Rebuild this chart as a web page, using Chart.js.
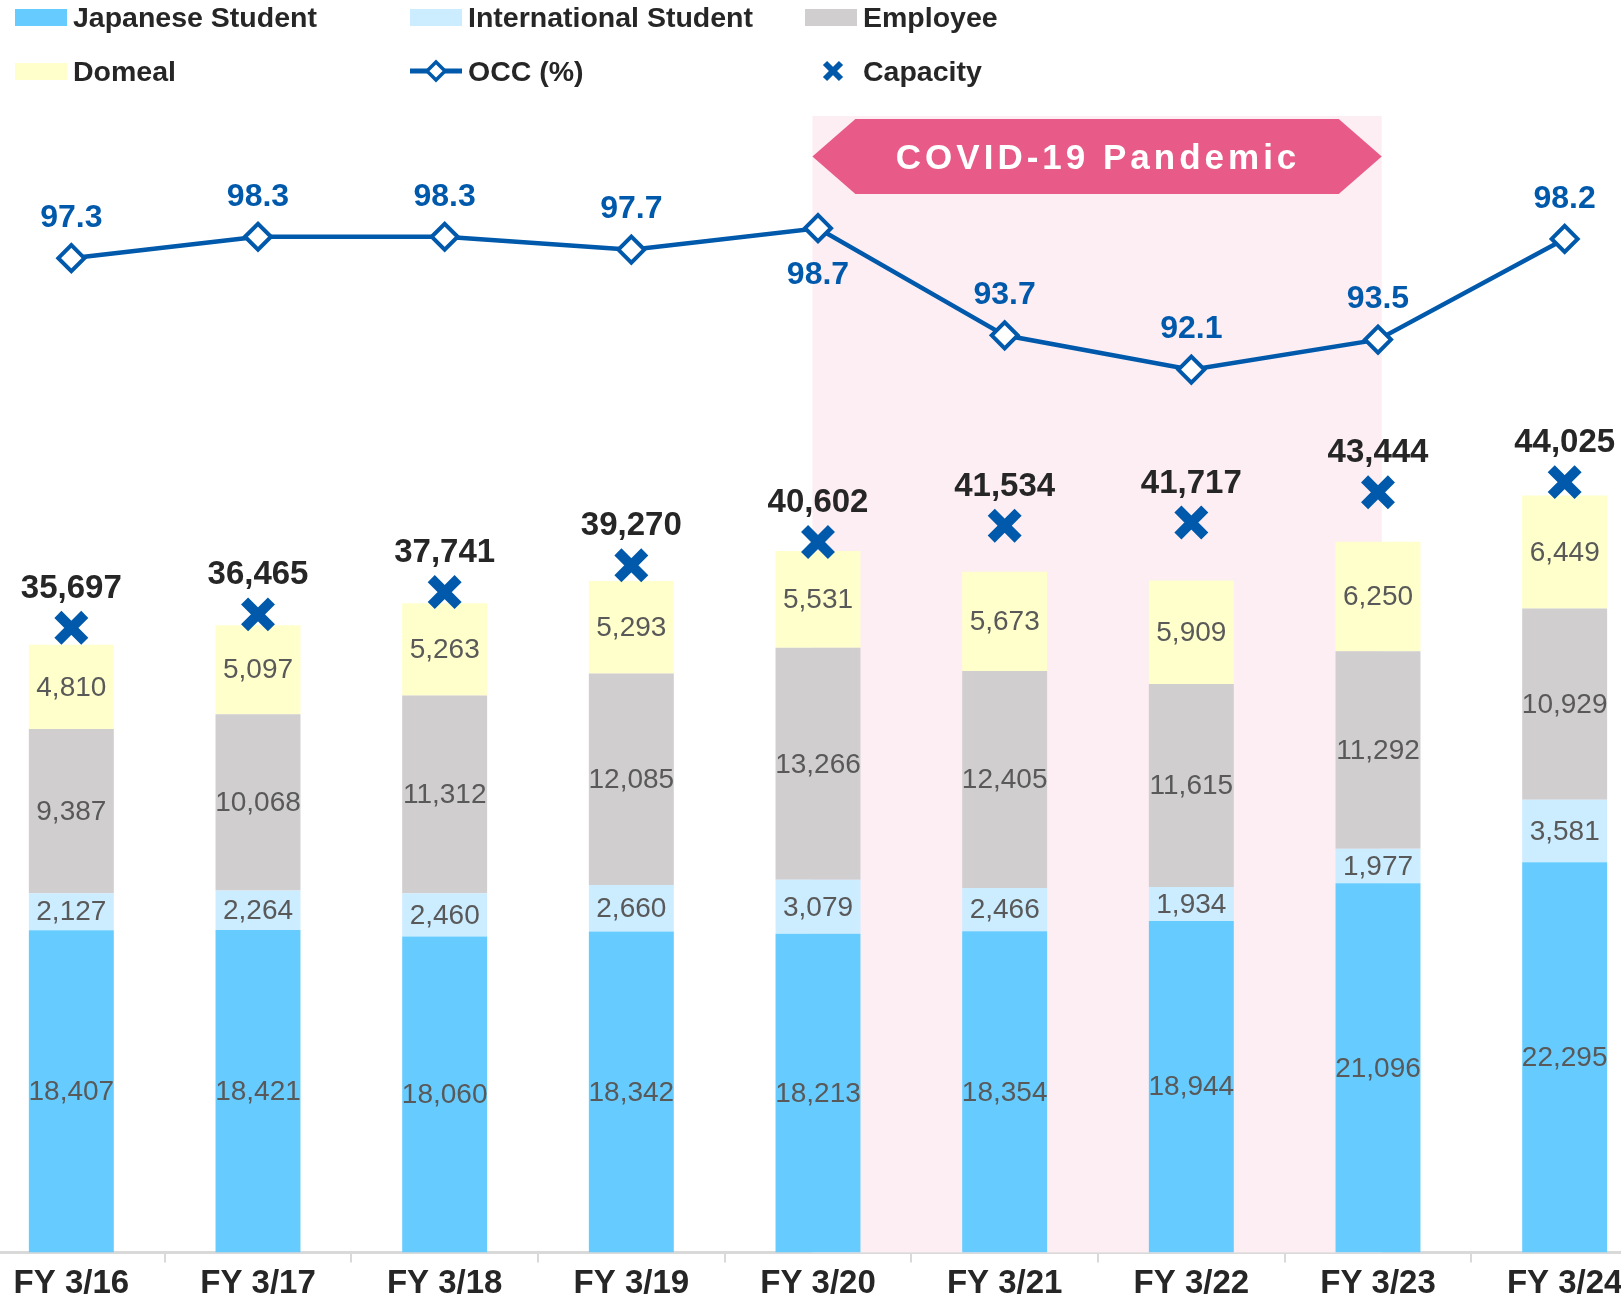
<!DOCTYPE html>
<html>
<head>
<meta charset="utf-8">
<script src="https://cdn.jsdelivr.net/npm/chart.js@4.4.1/dist/chart.umd.min.js"></script>
<style>
  html, body { margin: 0; padding: 0; background: #fff; }
  body { width: 1621px; height: 1295px; overflow: hidden; position: relative; font-family: "Liberation Sans", Arial, sans-serif; }
  #wrap { position: absolute; left: -22px; top: 0; width: 1680px; height: 1306px; }
  .lg { position: absolute; display: flex; align-items: center; height: 30px; font-size: 28.5px; font-weight: bold; color: #262626; white-space: nowrap; }
  .lg .icon { width: 52px; height: 30px; display: flex; align-items: center; justify-content: center; margin-right: 6px; }
  .lg .box { width: 52px; height: 17px; }
</style>
</head>
<body>
<div id="wrap"><canvas id="chart" width="1680" height="1306"></canvas></div>
<div id="legend"></div>
<script>
// dados do gráfico
const categories = ['FY 3/16', 'FY 3/17', 'FY 3/18', 'FY 3/19', 'FY 3/20', 'FY 3/21', 'FY 3/22', 'FY 3/23', 'FY 3/24'];
const japanese = [18407, 18421, 18060, 18342, 18213, 18354, 18944, 21096, 22295];
const international = [2127, 2264, 2460, 2660, 3079, 2466, 1934, 1977, 3581];
const employee = [9387, 10068, 11312, 12085, 13266, 12405, 11615, 11292, 10929];
const domeal = [4810, 5097, 5263, 5293, 5531, 5673, 5909, 6250, 6449];
const occ = [97.3, 98.3, 98.3, 97.7, 98.7, 93.7, 92.1, 93.5, 98.2];
const capacity = [35697, 36465, 37741, 39270, 40602, 41534, 41717, 43444, 44025];
const covidFrom = 4; // FY 3/20
const covidTo = 7;   // FY 3/23

const BLUE = '#0059AB';
const FONT = '"Liberation Sans", Arial, sans-serif';
const fmt = v => v.toLocaleString('en-US');

// legenda em HTML
const legendItems = [
    { name: 'Japanese Student', type: 'box', color: '#66CCFF' },
    { name: 'International Student', type: 'box', color: '#CCECFF' },
    { name: 'Employee', type: 'box', color: '#D0CECE' },
    { name: 'Domeal', type: 'box', color: '#FFFFCC' },
    { name: 'OCC (%)', type: 'line' },
    { name: 'Capacity', type: 'cross' }
];
const colX = [15, 410, 805];
const rowY = [17, 71];
const legend = document.getElementById('legend');
legendItems.forEach((it, i) => {
    const el = document.createElement('div');
    el.className = 'lg';
    el.style.left = colX[i % 3] + 'px';
    el.style.top = (rowY[Math.floor(i / 3)] - 15) + 'px';
    let icon;
    if (it.type === 'box') {
        icon = '<div class="box" style="background:' + it.color + '"></div>';
    } else if (it.type === 'line') {
        icon = '<svg width="52" height="24"><line x1="0" y1="12" x2="52" y2="12" stroke="' + BLUE + '" stroke-width="5"/>' +
               '<polygon points="26,3 35,12 26,21 17,12" fill="#fff" stroke="' + BLUE + '" stroke-width="3.5"/></svg>';
    } else {
        icon = '<svg width="52" height="24"><line x1="20" y1="4" x2="36" y2="20" stroke="' + BLUE + '" stroke-width="6"/>' +
               '<line x1="36" y1="4" x2="20" y2="20" stroke="' + BLUE + '" stroke-width="6"/></svg>';
    }
    el.innerHTML = '<div class="icon">' + icon + '</div><span>' + it.name + '</span>';
    legend.appendChild(el);
});

// plugin: faixa COVID + rótulos
const extrasPlugin = {
    id: 'extras',
    beforeDatasetsDraw(chart) {
        const { ctx, chartArea, scales: { x } } = chart;
        const cw = x.getPixelForValue(1) - x.getPixelForValue(0);
        const left = x.getPixelForValue(covidFrom) - cw * 0.03;
        const right = x.getPixelForValue(covidTo) + cw * 0.02;
        const top = 116;
        ctx.save();
        ctx.fillStyle = '#FCEEF3';
        ctx.fillRect(left, top, right - left, chartArea.bottom - top);
        const bTop = 119, bBot = 194, mid = (bTop + bBot) / 2, ind = 43;
        ctx.fillStyle = '#E85A87';
        ctx.beginPath();
        ctx.moveTo(left, mid);
        ctx.lineTo(left + ind, bTop);
        ctx.lineTo(right - ind, bTop);
        ctx.lineTo(right, mid);
        ctx.lineTo(right - ind, bBot);
        ctx.lineTo(left + ind, bBot);
        ctx.closePath();
        ctx.fill();
        ctx.fillStyle = '#fff';
        ctx.font = 'bold 35px ' + FONT;
        ctx.letterSpacing = '4px';
        ctx.textAlign = 'center';
        ctx.textBaseline = 'middle';
        ctx.fillText('COVID-19 Pandemic', (left + right) / 2 + 1, mid + 3);
        ctx.restore();
    },
    afterDatasetsDraw(chart) {
        const ctx = chart.ctx;
        ctx.save();
        ctx.textAlign = 'center';
        ctx.textBaseline = 'middle';
        // valores dentro das barras
        ctx.font = '28px ' + FONT;
        ctx.fillStyle = '#595959';
        [0, 1, 2, 3].forEach(i => {
            const ds = chart.data.datasets[i];
            chart.getDatasetMeta(i).data.forEach((bar, j) => {
                ctx.fillText(fmt(ds.data[j]), bar.x, (bar.y + bar.base) / 2 + 1);
            });
        });
        // capacidade
        ctx.font = 'bold 33px ' + FONT;
        ctx.fillStyle = '#262626';
        chart.getDatasetMeta(5).data.forEach((pt, j) => {
            ctx.fillText(fmt(capacity[j]), pt.x, pt.y - 39);
        });
        // OCC
        ctx.font = 'bold 32px ' + FONT;
        ctx.fillStyle = BLUE;
        chart.getDatasetMeta(4).data.forEach((pt, j) => {
            const below = j === covidFrom;
            ctx.fillText(occ[j].toFixed(1), pt.x, below ? pt.y + 47 : pt.y - 40);
        });
        ctx.restore();
    }
};

const ctx = document.getElementById('chart').getContext('2d');
const chart = new Chart(ctx, {
    type: 'bar',
    data: {
        labels: categories,
        datasets: [
            { label: 'Japanese Student', data: japanese, backgroundColor: '#66CCFF', order: 3 },
            { label: 'International Student', data: international, backgroundColor: '#CCECFF', order: 3 },
            { label: 'Employee', data: employee, backgroundColor: '#D0CECE', order: 3 },
            { label: 'Domeal', data: domeal, backgroundColor: '#FFFFCC', order: 3 },
            {
                type: 'line', label: 'OCC (%)', data: occ, yAxisID: 'y1', order: 0,
                borderColor: BLUE, borderWidth: 4.5, backgroundColor: '#fff',
                pointStyle: 'rectRot', pointRadius: 13, pointBorderWidth: 4,
                pointBackgroundColor: '#fff', pointBorderColor: BLUE, tension: 0
            },
            {
                type: 'line', label: 'Capacity', data: capacity, yAxisID: 'yc', order: 1,
                showLine: false, pointStyle: 'crossRot', pointRadius: 19, pointBorderWidth: 10,
                pointBorderColor: BLUE, pointBackgroundColor: BLUE
            }
        ]
    },
    options: {
        responsive: false,
        animation: false,
        layout: { padding: 0, autoPadding: false },
        datasets: { bar: { categoryPercentage: 1, barPercentage: 0.455 } },
        plugins: { legend: { display: false }, tooltip: { enabled: false } },
        scales: {
            x: {
                stacked: true,
                grid: { drawOnChartArea: false, drawTicks: true, tickLength: 10, color: '#D9D9D9', lineWidth: 2 },
                border: { color: '#D9D9D9', width: 3 },
                ticks: { color: '#262626', padding: 2, font: { family: FONT, size: 33, weight: 'bold' } }
            },
            y: { stacked: true, display: false, min: 0, max: 71580 },
            yc: { display: false, min: 0, max: 71580 },
            y1: { display: false, min: 50.9, max: 109.35 }
        }
    },
    plugins: [extrasPlugin]
});
</script>
</body>
</html>
